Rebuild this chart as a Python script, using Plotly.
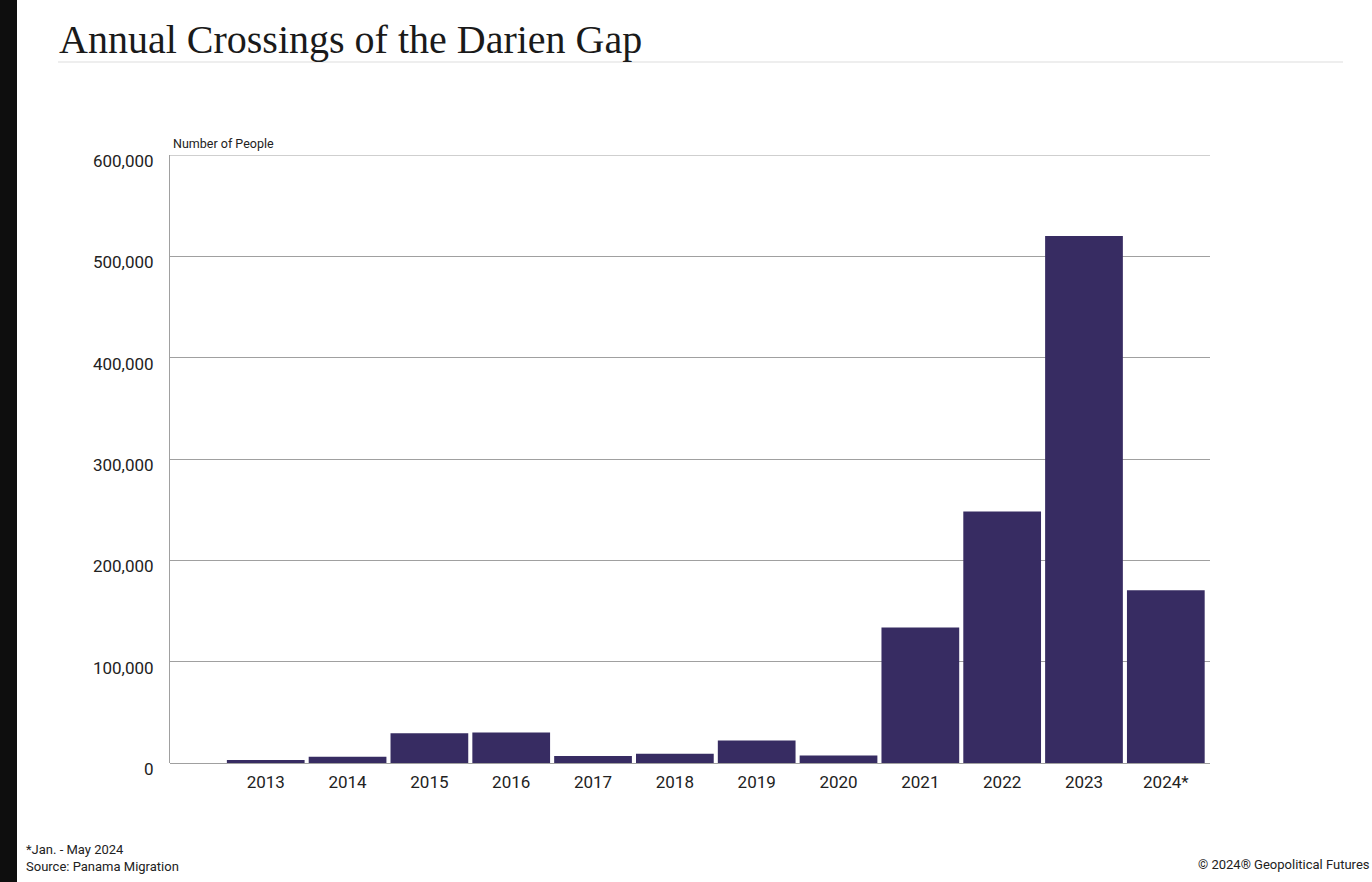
import plotly.graph_objects as go

years = ["2013", "2014", "2015", "2016", "2017", "2018", "2019", "2020", "2021", "2022", "2023", "2024*"]
crossings = [3000, 6200, 29300, 30100, 6800, 9200, 22100, 7500, 133700, 248300, 520100, 170500]
y_ticks = [0, 100000, 200000, 300000, 400000, 500000, 600000]

W, H = 1372, 882
L, R, T, B = 170, 162, 155, 119
PW, PH = W - L - R, H - T - B

def px(x):
    return (x - L) / PW

def py(y):
    return (H - B - y) / PH

bar_color = "#372C62"
grid_color = "#A0A0A0"
text_color = "#222222"

fig = go.Figure()
fig.add_trace(go.Bar(
    x=list(range(len(years))),
    y=crossings,
    width=0.95,
    marker=dict(color=bar_color, line=dict(width=0)),
    hovertemplate="%{customdata}: %{y:,}<extra></extra>",
    customdata=years,
))

fig.update_layout(
    width=W, height=H,
    margin=dict(l=L, r=R, t=T, b=B),
    paper_bgcolor="white",
    plot_bgcolor="white",
    showlegend=False,
    font=dict(family="Roboto", color=text_color),
    xaxis=dict(
        range=[-1.17, 11.54],
        tickmode="array",
        tickvals=list(range(len(years))),
        ticktext=years,
        showgrid=False,
        zeroline=False,
        showline=False,
        ticks="",
        ticklabelstandoff=7,
        tickfont=dict(size=17, color=text_color, family="Roboto"),
        fixedrange=True,
    ),
    yaxis=dict(
        range=[0, 600000],
        tickmode="array",
        tickvals=y_ticks,
        tickformat=",",
        showgrid=True,
        gridcolor=grid_color,
        gridwidth=1,
        zeroline=True,
        zerolinecolor=grid_color,
        zerolinewidth=1,
        showline=True,
        linecolor=grid_color,
        linewidth=1,
        ticks="",
        ticklabelstandoff=12,
        ticklabelshift=6,
        tickfont=dict(size=17, color=text_color, family="Roboto"),
        fixedrange=True,
    ),
    shapes=[
        dict(type="rect", xref="paper", yref="paper",
             x0=px(0), x1=px(17), y0=py(H), y1=py(0),
             fillcolor="#0E0E0E", line=dict(width=0), layer="above"),
        dict(type="line", xref="paper", yref="paper",
             x0=px(58), x1=px(1343), y0=py(62), y1=py(62),
             line=dict(color="#DDDDDD", width=1)),
        dict(type="line", xref="paper", yref="y",
             x0=0, x1=1, y0=y_ticks[-1], y1=y_ticks[-1],
             line=dict(color=grid_color, width=1)),
    ],
    annotations=[
        dict(text="Annual Crossings of the Darien Gap", xref="paper", yref="paper",
             x=px(57), y=py(40), xanchor="left", yanchor="middle", showarrow=False,
             font=dict(family="Liberation Serif", size=40, color="#1a1a1a")),
        dict(text="Number of People", xref="paper", yref="paper",
             x=px(171), y=py(144), xanchor="left", yanchor="middle", showarrow=False,
             font=dict(family="Roboto", size=12.5, color=text_color)),
        dict(text="*Jan. - May 2024<br>Source: Panama Migration", xref="paper", yref="paper",
             x=px(24), y=py(858), xanchor="left", yanchor="middle", showarrow=False,
             align="left", font=dict(family="Roboto", size=13, color=text_color)),
        dict(text="© 2024® Geopolitical Futures", xref="paper", yref="paper",
             x=px(1372), y=py(865), xanchor="right", yanchor="middle", showarrow=False,
             font=dict(family="Roboto", size=13, color=text_color)),
    ],
)

fig.write_html(
    "out.html",
    config={"displayModeBar": False},
    post_script="document.body.style.margin='0';document.body.style.padding='0';document.body.style.overflow='hidden';",
)
